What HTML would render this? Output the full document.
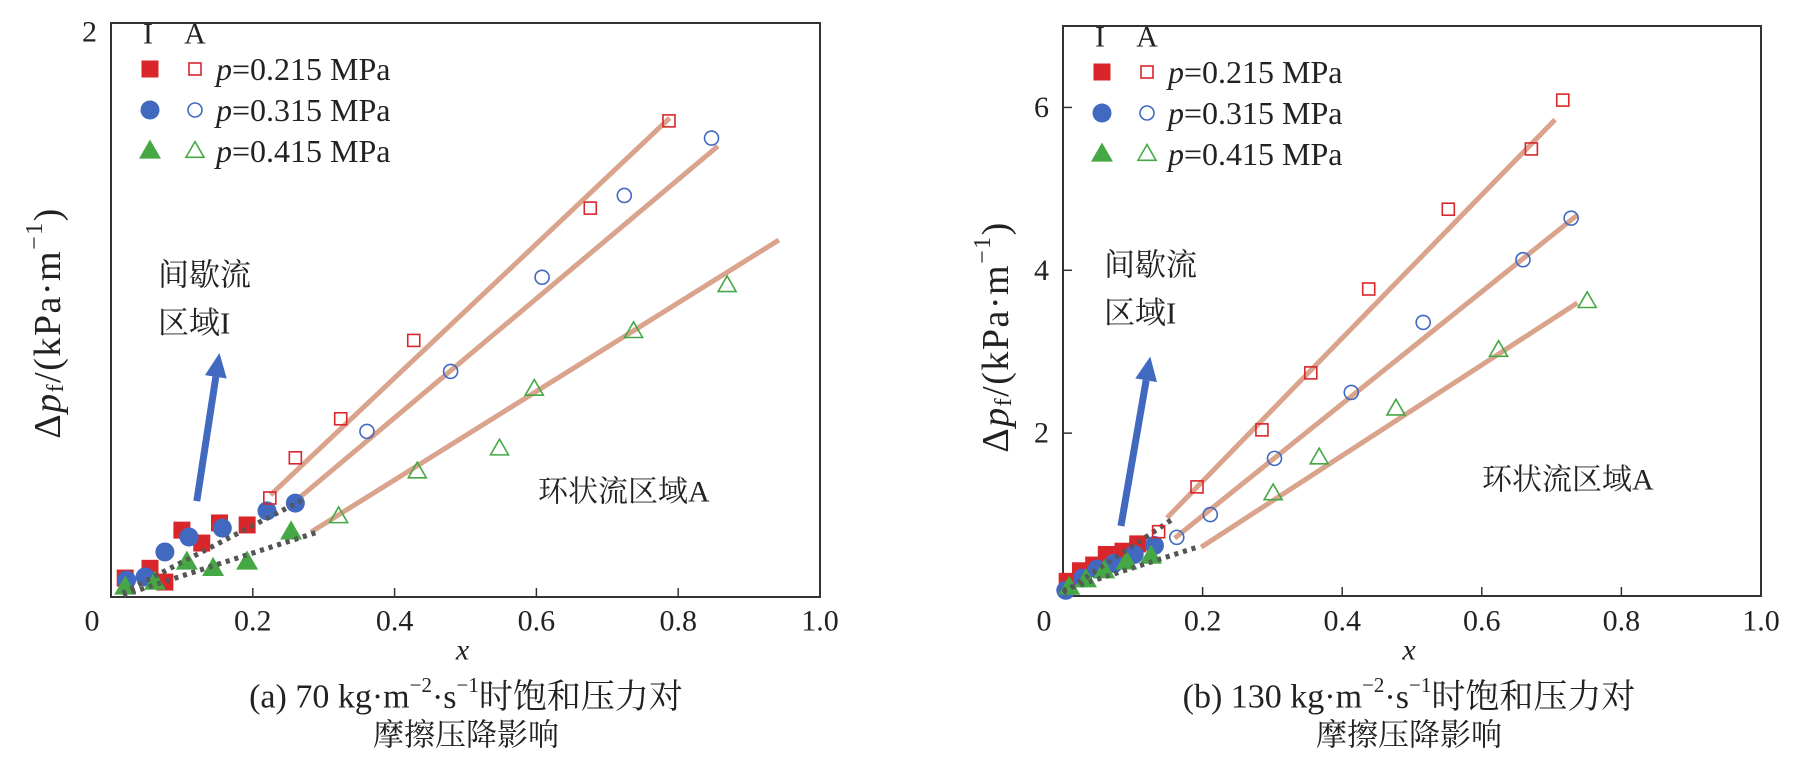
<!DOCTYPE html>
<html><head><meta charset="utf-8"><style>
html,body{margin:0;padding:0;background:#fff;}
svg{display:block;font-family:"Liberation Serif","Noto Serif CJK SC","Noto Sans CJK SC",serif;}
</style></head><body>
<svg id="chart" width="1794" height="768" viewBox="0 0 1794 768" xmlns="http://www.w3.org/2000/svg"></svg>
<script>
// ---------- Panel (a) data ----------
const aXTicks = [0, 0.2, 0.4, 0.6, 0.8, 1.0];
const aXTickLabels = ["0", "0.2", "0.4", "0.6", "0.8", "1.0"];
const aYTicks = [2];
const aYTickLabels = ["2"];
const aSqFilledX = [0.020, 0.055, 0.076, 0.100, 0.128, 0.153, 0.192];
const aSqFilledY = [0.066, 0.100, 0.052, 0.233, 0.188, 0.258, 0.251];
const aCiFilledX = [0.022, 0.048, 0.076, 0.110, 0.157, 0.220, 0.260];
const aCiFilledY = [0.059, 0.070, 0.157, 0.209, 0.240, 0.300, 0.327];
const aTrFilledX = [0.020, 0.062, 0.107, 0.144, 0.192, 0.254];
const aTrFilledY = [0.035, 0.052, 0.122, 0.100, 0.122, 0.227];
const aSqOpenX = [0.224, 0.260, 0.324, 0.427, 0.676, 0.787];
const aSqOpenY = [0.345, 0.485, 0.621, 0.894, 1.355, 1.659];
const aCiOpenX = [0.361, 0.479, 0.608, 0.724, 0.847];
const aCiOpenY = [0.577, 0.786, 1.114, 1.399, 1.599];
const aTrOpenX = [0.321, 0.432, 0.548, 0.597, 0.737, 0.869];
const aTrOpenY = [0.281, 0.437, 0.517, 0.725, 0.926, 1.086];
const aFitRed = [[0.225, 0.355], [0.788, 1.669]];
const aFitBlue = [[0.260, 0.334], [0.856, 1.571]];
const aFitGreen = [[0.282, 0.226], [0.942, 1.244]];
const aDotUpper = [[0.016, 0.014], [0.270, 0.338]];
const aDotLower = [[0.017, 0.007], [0.291, 0.226]];
const aArrow = [[0.121, 0.334], [0.153, 0.85]];

// ---------- Panel (b) data ----------
const bXTicks = [0, 0.2, 0.4, 0.6, 0.8, 1.0];
const bXTickLabels = ["0", "0.2", "0.4", "0.6", "0.8", "1.0"];
const bYTicks = [2, 4, 6];
const bYTickLabels = ["2", "4", "6"];
const bSqFilledX = [0.006, 0.025, 0.044, 0.062, 0.086, 0.107];
const bSqFilledY = [0.18, 0.31, 0.38, 0.51, 0.55, 0.64];
const bCiFilledX = [0.004, 0.028, 0.049, 0.073, 0.102, 0.131];
const bCiFilledY = [0.07, 0.22, 0.33, 0.40, 0.51, 0.62];
const bTrFilledX = [0.009, 0.033, 0.059, 0.091, 0.126];
const bTrFilledY = [0.11, 0.20, 0.31, 0.42, 0.49];
const bSqOpenX = [0.137, 0.192, 0.285, 0.355, 0.438, 0.552, 0.671, 0.716];
const bSqOpenY = [0.79, 1.34, 2.04, 2.74, 3.77, 4.75, 5.49, 6.09];
const bCiOpenX = [0.163, 0.211, 0.303, 0.413, 0.516, 0.659, 0.728];
const bCiOpenY = [0.72, 1.00, 1.69, 2.50, 3.36, 4.13, 4.64];
const bTrOpenX = [0.301, 0.367, 0.477, 0.624, 0.751];
const bTrOpenY = [1.26, 1.70, 2.30, 3.02, 3.62];
const bFitRed = [[0.149, 0.96], [0.705, 5.85]];
const bFitBlue = [[0.160, 0.71], [0.737, 4.68]];
const bFitGreen = [[0.198, 0.60], [0.737, 3.60]];
const bDotUpper = [[0.0, 0.04], [0.158, 0.95]];
const bDotLower = [[0.0, 0.07], [0.196, 0.61]];
const bArrow = [[0.083, 0.86], [0.125, 2.94]];

const NS = "http://www.w3.org/2000/svg";
const svg = document.getElementById("chart");
const RED = "#d9262b", BLUE = "#4169c0", GREEN = "#45a845", FIT = "#daa38c";

function mk(tag, attrs, parent) {
  const e = document.createElementNS(NS, tag);
  for (const k in attrs) e.setAttribute(k, attrs[k]);
  (parent || svg).appendChild(e);
  return e;
}
function txt(s, x, y, size, parent, anchor, extra) {
  const t = mk("text", Object.assign({x: x, y: y, "font-size": size, "text-anchor": anchor || "start", "dominant-baseline": "central", fill: "#222"}, extra || {}), parent);
  t.textContent = s;
  return t;
}
function marker(g, kind, filled, cx, cy, color) {
  let e;
  if (kind === "sq") {
    const s = filled ? 17 : 12;
    e = mk("rect", {x: cx - s / 2, y: cy - s / 2, width: s, height: s}, g);
  } else if (kind === "ci") {
    e = mk("circle", {cx: cx, cy: cy, r: filled ? 9.5 : 7}, g);
  } else {
    const s = filled ? 22 : 18, h = s * 0.87;
    e = mk("polygon", {points: `${cx},${cy - h * 0.6} ${cx - s / 2},${cy + h * 0.4} ${cx + s / 2},${cy + h * 0.4}`}, g);
  }
  if (filled) { e.setAttribute("fill", color); }
  else { e.setAttribute("fill", "none"); e.setAttribute("stroke", color); e.setAttribute("stroke-width", "1.6"); }
  
  
  return e;
}

function panel(cfg) {
  const g = mk("g", {});
  
  
  const X = v => cfg.x0 + (v - 0) * (cfg.x1 - cfg.x0) / (cfg.xMax - 0);
  const Y = v => cfg.y0 - v * (cfg.y0 - cfg.yTop) / cfg.yMax;

  const fr = mk("rect", {x: cfg.x0, y: cfg.yTop, width: cfg.x1 - cfg.x0, height: cfg.y0 - cfg.yTop, fill: "none", stroke: "#333", "stroke-width": 2}, g);
  
  

  cfg.xTicks.forEach((v, i) => {
    if (v > 0 && v < cfg.xMax) {
      const t = mk("line", {x1: X(v), x2: X(v), y1: cfg.y0, y2: cfg.y0 - 9, stroke: "#333", "stroke-width": 1.5}, g);
      
      
    }
    const lx = v === 0 ? X(v) - 19 : X(v);
    const l = txt(cfg.xTickLabels[i], lx, 621, 30, g, "middle");
    
    
  });
  cfg.yTicks.forEach((v, i) => {
    if (cfg.yTickMarks) {
      const t = mk("line", {x1: cfg.x0, x2: cfg.x0 + 9, y1: Y(v), y2: Y(v), stroke: "#333", "stroke-width": 1.5}, g);
      
      
    }
    const l = txt(cfg.yTickLabels[i], cfg.x0 - 14, Y(v) + (cfg.yTickMarks ? 0 : 9), 30, g, "end");
    
    
  });

  const xt = txt("x", (cfg.x0 + cfg.x1) / 2 - 3, 650, 30, g, "middle", {"font-style": "italic"});
  
  
  const yt = mk("text", {x: 0, y: 0, "font-size": 38, "letter-spacing": 1.5, "text-anchor": "middle", "dominant-baseline": "central", fill: "#222", transform: `translate(${cfg.yTitleX},${cfg.yTitleY}) rotate(-90)`}, g);
  yt.innerHTML = 'Δ<tspan font-style="italic">p</tspan><tspan font-size="24" dy="8">f</tspan><tspan dy="-8">/(kPa·m</tspan><tspan font-size="24" dy="-13">−1</tspan><tspan dy="13">)</tspan>';
  
  

  [cfg.fitRed, cfg.fitBlue, cfg.fitGreen].forEach(f => {
    const l = mk("line", {x1: X(f[0][0]), y1: Y(f[0][1]), x2: X(f[1][0]), y2: Y(f[1][1]), stroke: FIT, "stroke-width": 5}, g);
    
    
  });
  [cfg.dotUpper, cfg.dotLower].forEach(f => {
    const l = mk("line", {x1: X(f[0][0]), y1: Y(f[0][1]), x2: X(f[1][0]), y2: Y(f[1][1]), stroke: "#555", "stroke-width": 5, "stroke-dasharray": "4 5"}, g);
    
    
  });

  cfg.sqFX.forEach((v, i) => marker(g, "sq", true, X(v), Y(cfg.sqFY[i]), RED));
  cfg.ciFX.forEach((v, i) => marker(g, "ci", true, X(v), Y(cfg.ciFY[i]), BLUE));
  cfg.trFX.forEach((v, i) => marker(g, "tr", true, X(v), Y(cfg.trFY[i]), GREEN));
  [cfg.dotUpper, cfg.dotLower].forEach(f => {
    const l = mk("line", {x1: X(f[0][0]), y1: Y(f[0][1]), x2: X(f[1][0]), y2: Y(f[1][1]), stroke: "#555", "stroke-width": 5, "stroke-dasharray": "4 5", opacity: 0.85}, g);
    
    
  });
  cfg.sqOX.forEach((v, i) => marker(g, "sq", false, X(v), Y(cfg.sqOY[i]), RED));
  cfg.ciOX.forEach((v, i) => marker(g, "ci", false, X(v), Y(cfg.ciOY[i]), BLUE));
  cfg.trOX.forEach((v, i) => marker(g, "tr", false, X(v), Y(cfg.trOY[i]), GREEN));

  const ax1 = X(cfg.arrow[0][0]), ay1 = Y(cfg.arrow[0][1]), ax2 = X(cfg.arrow[1][0]), ay2 = Y(cfg.arrow[1][1]);
  const ang = Math.atan2(ay2 - ay1, ax2 - ax1);
  const bx = ax2 - 24 * Math.cos(ang), by = ay2 - 24 * Math.sin(ang);
  const al = mk("line", {x1: ax1, y1: ay1, x2: bx, y2: by, stroke: BLUE, "stroke-width": 7}, g);
  
  
  const px = -Math.sin(ang), py = Math.cos(ang);
  const ah = mk("polygon", {points: `${ax2},${ay2} ${bx + px * 11},${by + py * 11} ${bx - px * 11},${by - py * 11}`, fill: BLUE}, g);
  
  

  const r1 = txt("间歇流", cfg.t1x, cfg.t1y, 31, g);
  
  
  const r2 = txt("区域I", cfg.t1x, cfg.t1y + 48, 31, g);
  
  
  const r3 = txt("环状流区域A", cfg.t2x, cfg.t2y, 30, g);
  
  

  const lg = mk("g", {}, g);
  
  
  const lx1 = cfg.x0 + 39, lx2 = cfg.x0 + 84;
  txt("I", lx1 - 2, cfg.yTop + 11, 30, lg, "middle");
  txt("A", lx2, cfg.yTop + 11, 30, lg, "middle");
  const rows = [["sq", RED, "0.215"], ["ci", BLUE, "0.315"], ["tr", GREEN, "0.415"]];
  rows.forEach((r, i) => {
    const yy = cfg.yTop + 46 + i * 41;
    const m1 = marker(lg, r[0], true, lx1, yy, r[1]);
    
    const m2 = marker(lg, r[0], false, lx2, yy, r[1]);
    
    const t = mk("text", {x: lx2 + 21, y: yy, "font-size": 32, "dominant-baseline": "central", fill: "#222"}, lg);
    t.innerHTML = '<tspan font-style="italic">p</tspan>=' + r[2] + ' MPa';
    
    
  });

  const c1 = mk("text", {x: cfg.capX, y: 697, "font-size": 34, "text-anchor": "middle", "dominant-baseline": "central", fill: "#222"}, g);
  c1.innerHTML = cfg.cap1;
  
  
  const c2 = txt("摩擦压降影响", cfg.capX, 735, 31, g, "middle");
  
  
}

panel({name: "panel-a", x0: 111, x1: 820, yTop: 23, y0: 597, xMax: 1.0, yMax: 2,
  xTicks: aXTicks, xTickLabels: aXTickLabels, yTicks: aYTicks, yTickLabels: aYTickLabels, yTickMarks: false,
  sqFX: aSqFilledX, sqFY: aSqFilledY, ciFX: aCiFilledX, ciFY: aCiFilledY, trFX: aTrFilledX, trFY: aTrFilledY,
  sqOX: aSqOpenX, sqOY: aSqOpenY, ciOX: aCiOpenX, ciOY: aCiOpenY, trOX: aTrOpenX, trOY: aTrOpenY,
  fitRed: aFitRed, fitBlue: aFitBlue, fitGreen: aFitGreen, dotUpper: aDotUpper, dotLower: aDotLower, arrow: aArrow,
  t1x: 158, t1y: 275, t2x: 538, t2y: 492, yTitleX: 48, yTitleY: 323, capX: 466,
  cap1: '(a) 70 kg·m<tspan font-size="21" dy="-12">−2</tspan><tspan dy="12">·s</tspan><tspan font-size="21" dy="-12">−1</tspan><tspan dy="12">时饱和压力对</tspan>'});

panel({name: "panel-b", x0: 1063, x1: 1761, yTop: 26, y0: 596, xMax: 1.0, yMax: 7.0,
  xTicks: bXTicks, xTickLabels: bXTickLabels, yTicks: bYTicks, yTickLabels: bYTickLabels, yTickMarks: true,
  sqFX: bSqFilledX, sqFY: bSqFilledY, ciFX: bCiFilledX, ciFY: bCiFilledY, trFX: bTrFilledX, trFY: bTrFilledY,
  sqOX: bSqOpenX, sqOY: bSqOpenY, ciOX: bCiOpenX, ciOY: bCiOpenY, trOX: bTrOpenX, trOY: bTrOpenY,
  fitRed: bFitRed, fitBlue: bFitBlue, fitGreen: bFitGreen, dotUpper: bDotUpper, dotLower: bDotLower, arrow: bArrow,
  t1x: 1104, t1y: 265, t2x: 1482, t2y: 480, yTitleX: 996, yTitleY: 337, capX: 1409,
  cap1: '(b) 130 kg·m<tspan font-size="21" dy="-12">−2</tspan><tspan dy="12">·s</tspan><tspan font-size="21" dy="-12">−1</tspan><tspan dy="12">时饱和压力对</tspan>'});
</script>
</body></html>
